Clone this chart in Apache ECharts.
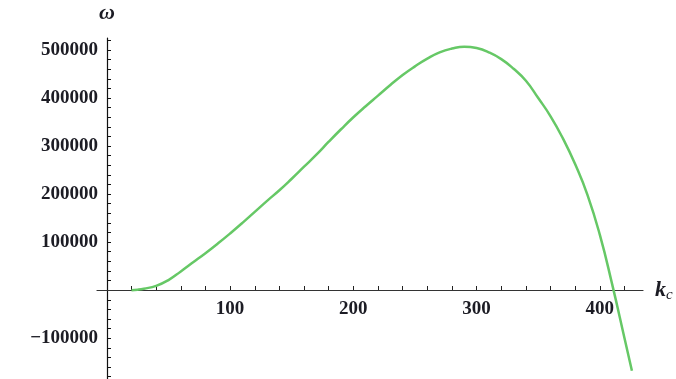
<!DOCTYPE html>
<html>
<head>
<meta charset="utf-8">
<script src="https://cdn.jsdelivr.net/npm/echarts@6/dist/echarts.min.js"></script>
<style>
    html, body { margin: 0; padding: 0; background: #ffffff; }
    #chart { width: 676px; height: 379px; }
</style>
</head>
<body>
<div id="chart"></div>
<script>
// k_c values and the omega
var kc = [20, 25, 30, 40, 50, 60, 70, 80, 90, 100, 110, 120, 130, 140, 150, 160, 170, 180, 190, 200,
    210, 220, 230, 240, 250, 260, 270, 280, 290, 300, 310, 320, 330, 340, 350, 360, 370, 380, 390, 400,
    410, 420, 426];
var omega = [0, 1000, 3000, 9000, 21000, 39000, 58000, 77000, 97000, 118000, 140000, 163000, 186000, 208000, 232000, 257000, 282000, 309000, 335000, 360000,
    383000, 405000, 427000, 448000, 466000, 482000, 495000, 503000, 507000, 504000, 495000, 481000, 461000, 436000, 400000, 362000, 316000, 262000, 198000, 115000,
    12000, -100000, -168000];

// tick labels and tick marks (every 20 on k_c, every 20000 on omega)
var xLabels = [100, 200, 300, 400];
var xTicks = [20, 40, 60, 80, 100, 120, 140, 160, 180, 200, 220, 240, 260, 280, 300, 320, 340, 360, 380, 400, 420];
var yLabels = [-100000, 100000, 200000, 300000, 400000, 500000];
var yTicks = [-180000, -160000, -140000, -120000, -100000, -80000, -60000, -40000, -20000,
    20000, 40000, 60000, 80000, 100000, 120000, 140000, 160000, 180000, 200000, 220000, 240000, 260000, 280000,
    300000, 320000, 340000, 360000, 380000, 400000, 420000, 440000, 460000, 480000, 500000, 520000];

var chart = echarts.init(document.getElementById('chart'));

var labelFont = {
    fontFamily: 'Liberation Serif',
    fontWeight: 'bold',
    fontSize: 19,
    color: '#1c1c24'
};

// grid spans the whole axis range; axes are pulled in to cross at (0, 0)
var option = {
    animation: false,
    backgroundColor: '#ffffff',
    grid: {left: 97, right: 33, top: 38, bottom: 0, containLabel: false, outerBoundsMode: 'none'},
    xAxis: {
        type: 'value',
        position: 'bottom',
        offset: -89,
        min: -8,
        max: 435,
        axisLine: {onZero: false, lineStyle: {color: '#333333', width: 1.2}},
        axisTick: {show: true, inside: true, length: 4, customValues: xTicks, lineStyle: {color: '#222222'}},
        axisLabel: Object.assign({customValues: xLabels, margin: 10}, labelFont),
        splitLine: {show: false},
        name: '{k|k}{c|c}',
        nameLocation: 'end',
        nameGap: 12,
        nameTextStyle: {
            rich: {
                k: {fontFamily: 'Liberation Serif', fontStyle: 'italic', fontWeight: 'bold', fontSize: 22, color: '#1c1c24'},
                c: {fontFamily: 'Liberation Serif', fontStyle: 'italic', fontSize: 15, color: '#1c1c24', padding: [10, 0, 0, 0]}
            }
        }
    },
    yAxis: {
        type: 'value',
        position: 'left',
        offset: -10,
        min: -185000,
        max: 525000,
        axisLine: {show: true, onZero: false, lineStyle: {color: '#111111', width: 1.2}},
        axisTick: {show: true, inside: true, length: 4, customValues: yTicks, lineStyle: {color: '#111111'}},
        axisLabel: Object.assign({
            customValues: yLabels,
            margin: 9,
            formatter: function(v) {
                return String(v).replace('-', '\u2212');
            }
        }, labelFont),
        splitLine: {show: false},
        name: 'ω',
        nameLocation: 'end',
        nameGap: 14,
        nameTextStyle: {fontFamily: 'Liberation Serif', fontStyle: 'italic', fontWeight: 'bold', fontSize: 22, color: '#1c1c24', align: 'center'}
    },
    series: [
        {
            type: 'line',
            smooth: true,
            symbol: 'none',
            lineStyle: {color: '#66c866', width: 2.5},
            data: kc.map(function(k, i) { return [k, omega[i]]; })
        }
    ]
};

chart.setOption(option);
</script>
</body>
</html>
